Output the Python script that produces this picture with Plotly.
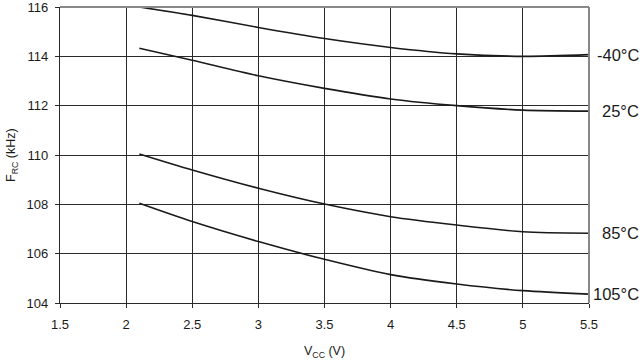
import plotly.graph_objects as go

vcc = [2.1, 2.5, 3.0, 3.5, 4.0, 4.5, 5.0, 5.5]
f_m40 = [116.0, 115.66, 115.17, 114.72, 114.36, 114.10, 114.00, 114.07]
f_25 = [114.33, 113.84, 113.21, 112.70, 112.27, 112.0, 111.82, 111.78]
f_85 = [110.04, 109.39, 108.65, 108.01, 107.50, 107.16, 106.89, 106.83]
f_105 = [108.04, 107.30, 106.49, 105.77, 105.15, 104.77, 104.50, 104.36]
series_names = ["-40°C", "25°C", "85°C", "105°C"]
series = [f_m40, f_25, f_85, f_105]
x_ticks = [1.5, 2, 2.5, 3, 3.5, 4, 4.5, 5, 5.5]
y_ticks = [104, 106, 108, 110, 112, 114, 116]

FONT = "Liberation Sans, Arial"
INK = "#1a1a1a"

fig = go.Figure()
for name, ys in zip(series_names, series):
    fig.add_trace(go.Scatter(x=vcc, y=ys, mode="lines", name=name,
                             line=dict(color=INK, width=1.6, shape="spline", smoothing=0.8),
                             showlegend=False, cliponaxis=False, hoverinfo="skip"))
    fig.add_annotation(x=1, xref="paper", y=ys[-1], yref="y", text=name,
                       showarrow=False, xanchor="right", yanchor="middle", xshift=52,
                       font=dict(family=FONT, size=16.5, color=INK))

# axis titles
fig.add_annotation(x=0, xref="paper", y=0.5, yref="paper", text="F<sub>RC</sub> (kHz)",
                   textangle=-90, showarrow=False, xanchor="center", yanchor="middle",
                   xshift=-48, font=dict(family=FONT, size=12.5, color=INK))
fig.add_annotation(x=0.5, xref="paper", y=0, yref="paper", text="V<sub>CC</sub> (V)",
                   showarrow=False, xanchor="center", yanchor="middle",
                   yshift=-49, font=dict(family=FONT, size=12.5, color=INK))

fig.add_shape(type="line", xref="paper", yref="paper", x0=0, x1=1, y0=1, y1=1,
              line=dict(color="#888888", width=2), layer="above")
fig.add_shape(type="line", xref="paper", yref="paper", x0=1, x1=1, y0=0, y1=1,
              line=dict(color="#888888", width=2), layer="above")

fig.update_xaxes(range=[1.5, 5.5], tickvals=x_ticks, ticktext=[f"{v:g}" for v in x_ticks],
                 automargin=False, ticklabeloverflow="allow", ticklabelstandoff=5,
                 showgrid=True, gridcolor="#2a2a2a", gridwidth=1.3, zeroline=False,
                 showline=True, linecolor="#2a2a2a", linewidth=1.3,
                 ticks="outside", ticklen=4, tickcolor="#2a2a2a",
                 tickfont=dict(family=FONT, size=13, color=INK))
fig.update_yaxes(range=[104, 116], tickvals=y_ticks,
                 automargin=False, ticklabeloverflow="allow", ticklabelstandoff=4,
                 showgrid=True, gridcolor="#2a2a2a", gridwidth=1.3, zeroline=False,
                 showline=True, linecolor="#2a2a2a", linewidth=1.3,
                 ticks="outside", ticklen=4, tickcolor="#2a2a2a",
                 tickfont=dict(family=FONT, size=13, color=INK))

fig.update_layout(width=644, height=362, margin=dict(l=60, r=55, t=7, b=59),
                  plot_bgcolor="white", paper_bgcolor="white", hovermode=False)
fig.write_html("out.html", config={"displayModeBar": False},
               post_script="document.body.style.margin='0';")
